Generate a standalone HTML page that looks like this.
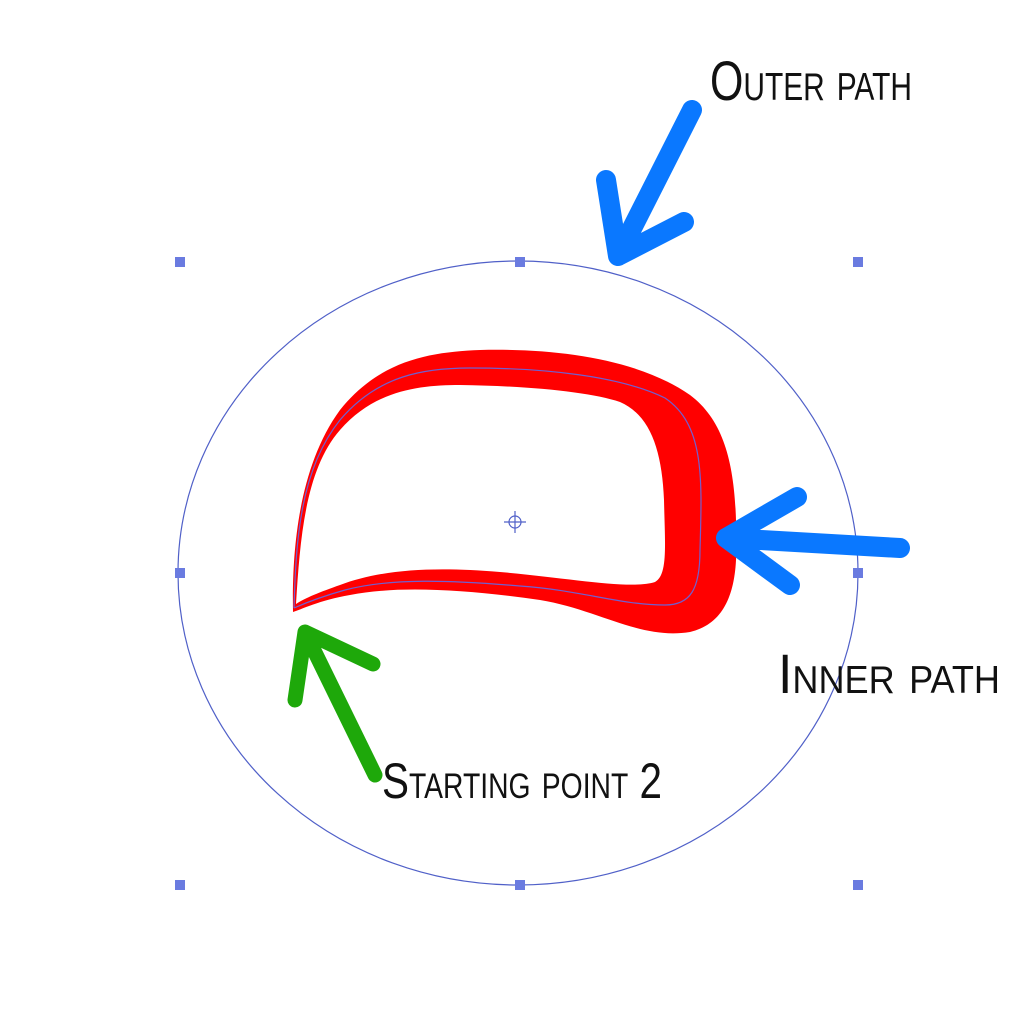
<!DOCTYPE html>
<html><head><meta charset="utf-8"><style>
html,body{margin:0;padding:0;background:#fff;}
svg{display:block}
text{font-family:"Liberation Sans Narrow","Liberation Sans",sans-serif;fill:#111;}
</style></head><body>
<svg width="1029" height="1018" viewBox="0 0 1029 1018" xmlns="http://www.w3.org/2000/svg">
<ellipse cx="518" cy="573" rx="340" ry="312" fill="none" stroke="#5060c8" stroke-width="1.2"/>
<g fill="#6a7be0">
<rect x="175" y="257" width="10" height="10"/><rect x="515" y="257" width="10" height="10"/><rect x="853" y="257" width="10" height="10"/>
<rect x="175" y="568" width="10" height="10"/><rect x="853" y="568" width="10" height="10"/>
<rect x="175" y="880" width="10" height="10"/><rect x="515" y="880" width="10" height="10"/><rect x="853" y="880" width="10" height="10"/>
</g>
<path fill="#ff0000" fill-rule="evenodd" d="M293,612 C292,560 296,470 340,410 C380,360 430,352 480,350 C560,348 640,360 690,395 C730,425 738,480 736,560 C734,600 720,625 690,632 C640,640 600,610 540,600 C470,590 400,585 350,595 C320,600 300,610 293,612 Z
M296,604 C300,540 305,470 340,430 C375,390 420,385 460,385 C530,386 590,392 620,402 C650,415 662,450 664,500 C665,545 668,575 655,582 C630,590 570,578 500,572 C430,566 380,570 340,585 C320,592 305,598 296,604 Z"/>
<path fill="none" stroke="#7060d0" stroke-width="1.2" d="M294,608 C296,540 300,470 340,420 C378,375 425,368 470,368 C545,368 620,376 665,398 C705,425 702,480 700,550 C700,590 690,605 665,605 C620,605 580,590 520,586 C450,580 390,578 345,590 C320,597 303,604 294,608"/>
<g stroke="#5060c8" stroke-width="1.2" fill="none"><circle cx="515" cy="522" r="6"/><path d="M515,511v22M504,522h22"/></g>
<g stroke="#0a78ff" stroke-width="20" stroke-linecap="round" stroke-linejoin="round" fill="none">
<path d="M692,110 L618,256 M606,180 L618,256 L684,222"/>
<path d="M900,548 L726,538 M797,497 L726,538 L790,585"/>
</g>
<g stroke="#1ea80a" stroke-width="15" stroke-linecap="round" stroke-linejoin="round" fill="none">
<path d="M375,775 L305,632 M295,700 L305,632 L373,664"/>
</g>
<text x="710" y="100" font-size="56" style="font-variant:small-caps" textLength="202" lengthAdjust="spacingAndGlyphs">Outer path</text>
<text x="778" y="693" font-size="56" style="font-variant:small-caps" textLength="222" lengthAdjust="spacingAndGlyphs">Inner path</text>
<text x="382" y="798" font-size="50" style="font-variant:small-caps" textLength="280" lengthAdjust="spacingAndGlyphs">Starting point 2</text>
</svg>
</body></html>
